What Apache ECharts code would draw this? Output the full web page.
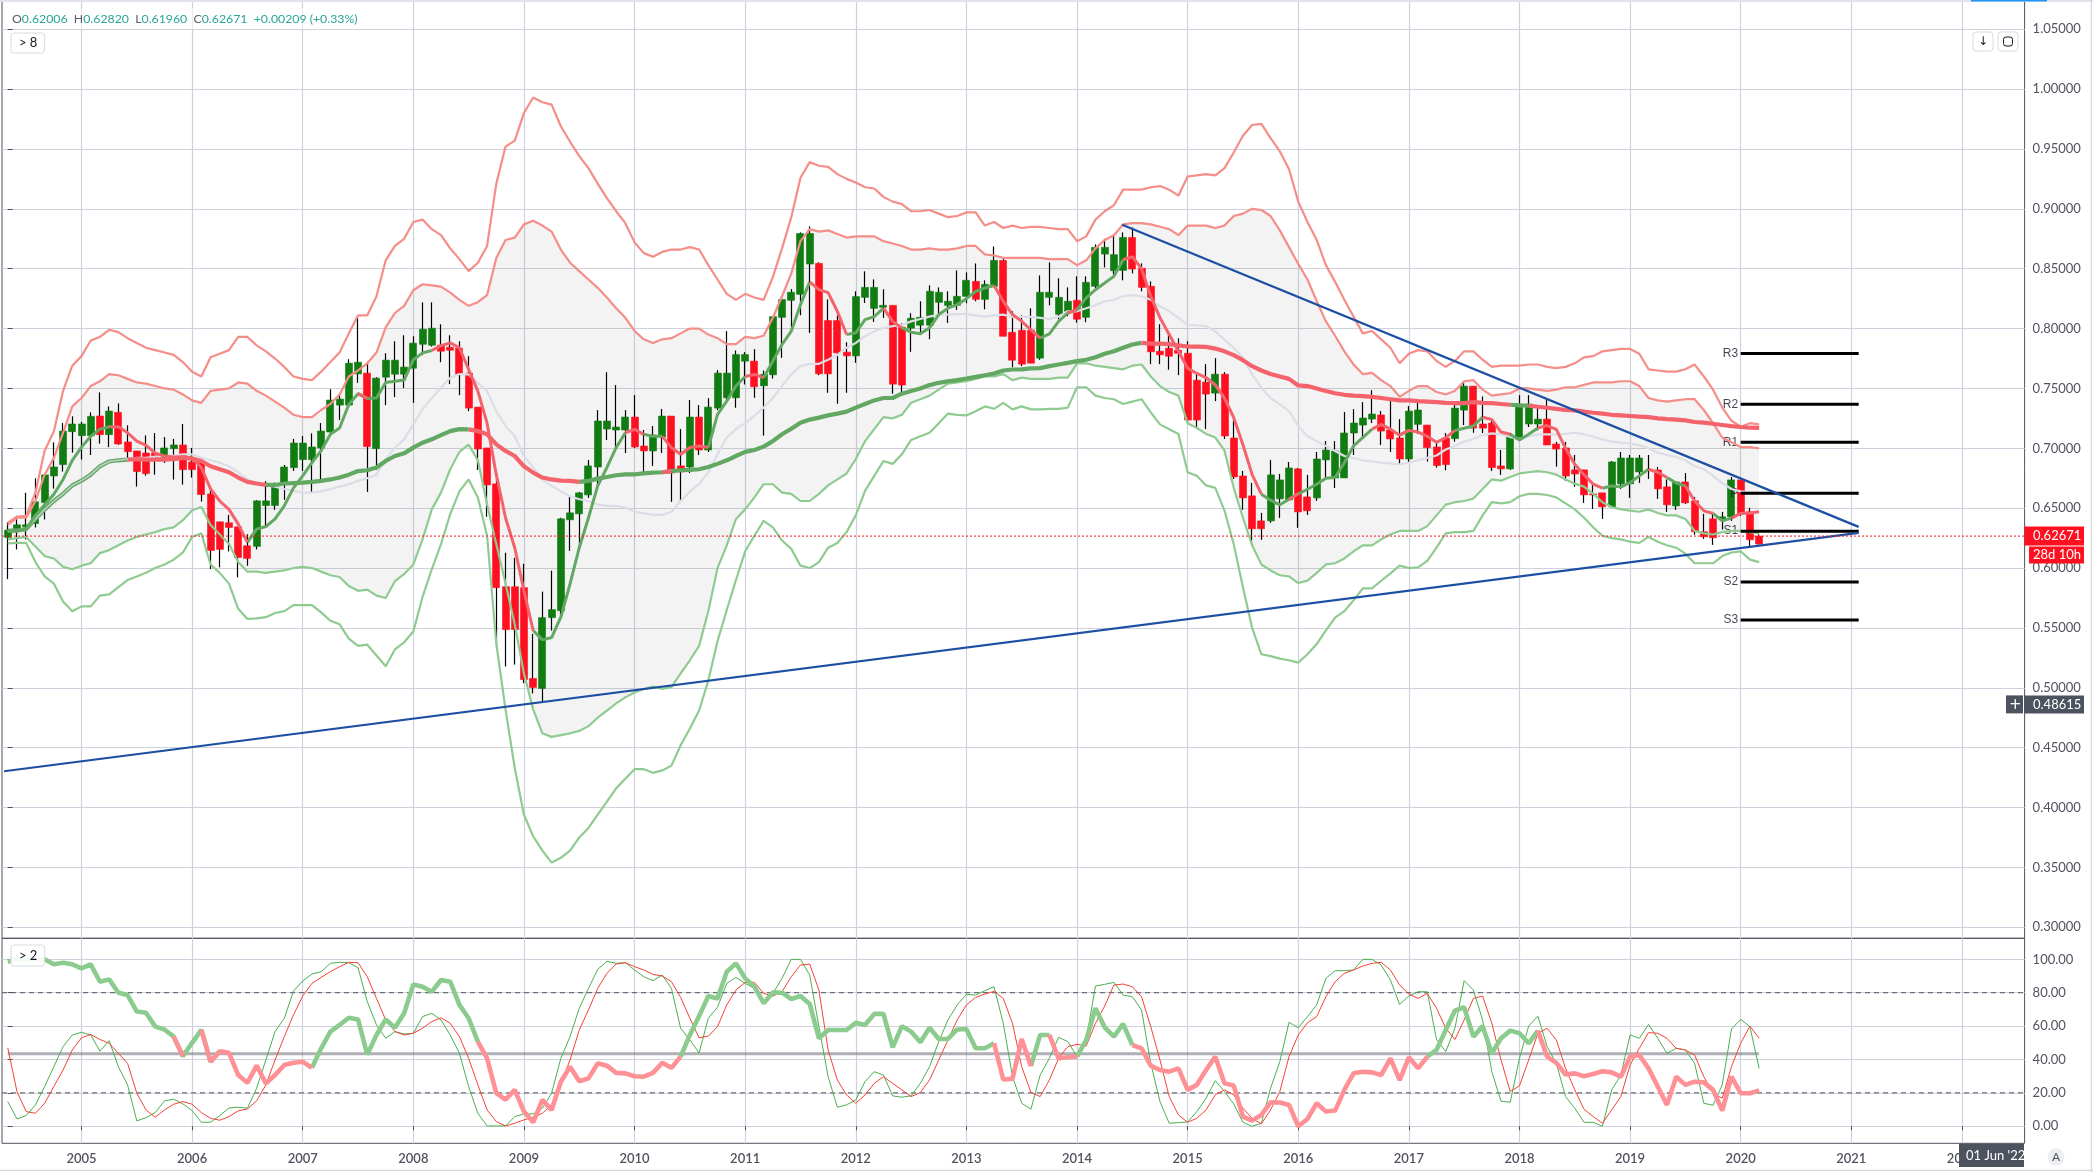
<!DOCTYPE html>
<html>
<head>
<meta charset="utf-8">
<style>html,body{margin:0;padding:0;background:#fff}#c{width:2093px;height:1172px}</style>
<script src="https://cdn.jsdelivr.net/npm/echarts@6/dist/echarts.min.js"></script>
</head>
<body>
<div id="c"></div>
<script>
// All prices below are in thousandths; months run from May 2004 (index 0) to Mar 2020 (index 190).
const yearLabels = ['2005','2006','2007','2008','2009','2010','2011','2012','2013','2014','2015','2016','2017','2018','2019','2020','2021','2022'];
const priceTicks = [0.30,0.35,0.40,0.45,0.50,0.55,0.60,0.65,0.70,0.75,0.80,0.85,0.90,0.95,1.00,1.05];
const oscTicks = [0,20,40,60,80,100];
const opens = [
625.6,631.1,634.4,637.2,654.7,676.9,686.4,713.9,710.6,710.6,
727,711.4,730,705.3,697.8,696.1,696.1,692.2,699.7,702.8,
688.6,688.6,661.9,638.6,637.8,634.4,618.6,618.1,652.2,652.2,
669.7,683.9,690.6,690.6,700.3,713.6,736.1,736.1,762.2,762.8,
699.7,759.4,761.9,761.9,766.9,786.9,786.1,786.1,784.4,783.6,
762.8,734.4,700.3,670.3,584.4,584.4,583.6,507.8,499.4,558.6,
564.4,640.3,645.3,661.1,684.4,716.1,715.3,715.3,726.1,701.9,
697.8,709.4,726.9,685.3,684.4,726.1,698.6,733.6,742.2,742.2,
772.8,772.8,752.2,761.4,809.4,823.6,828.6,853.9,854.4,806.7,
806.7,780.3,777.2,826.1,816.9,817.8,819.4,801.1,800.3,802.8,
802.8,821.9,819.4,819.4,826.9,839.4,824.4,835.3,856.9,796.9,
798.6,798.6,775.3,826.1,811.9,814.4,823.6,809.4,835.3,862.2,
848.3,848.6,876.1,850.3,835.3,781.1,783.6,781.9,779.4,756.9,
755.3,746.1,761.9,708.6,676.9,660.3,639.4,639.4,657.8,656.9,
682.8,659.4,658.6,690.3,675.3,675.3,712.8,719.4,724.4,727.8,
715.3,708.6,691.1,720,719.4,701.1,708.6,708.1,731.9,751.9,
720.3,721.1,685.3,682.8,707.8,720.3,720.3,724.4,703.6,700.3,
682,682,661.9,662.8,651.1,670.3,670.3,680.3,681.9,681.9,
667.8,651.9,671.9,656.1,630.3,641.1,641.1,642.8,673.6,647,
620.06];
const closes = [
631.7,636.1,636.1,655.3,677.8,684.4,714.4,720.3,720.3,726.7,
711.4,731.1,703.6,697.2,680.6,678.9,690.3,700.3,702.8,682.2,
682.2,661.4,614.7,615.6,633.9,608.9,608.1,656.1,656.1,670.3,
684.4,704.4,704.4,701.1,714.4,740.3,741.1,771.1,771.9,701.4,
758.6,773.6,773.6,767.8,787.8,799.4,800.3,781.1,781.9,761.9,
733.6,699.4,669.4,583.6,548.6,548.6,506.9,500.3,558.6,565.3,
641.1,646.1,662.8,685.3,722.8,722.8,717.8,726.1,701.1,697.8,
711.1,726.9,679.4,680.3,726.1,698.6,734.4,762.8,762.8,778.3,
778.3,751.4,761.7,810,824.2,830.3,879.4,879.4,762.2,762.2,
779.7,777.2,826.7,834.4,834.4,819.4,753.6,752.8,808.6,809.4,
831.1,830.3,822.8,826.9,840.3,824.4,836.9,856.9,793.6,773.6,
770.3,771.1,830.3,830.3,826.1,822.8,807.8,838.6,867.8,867.8,
861.7,876.1,849.7,834.4,780.6,778.1,776.9,779.4,723.6,723.6,
745.3,761.9,710.3,676.1,658.6,632.8,632.8,677.8,673.6,683.6,
646.9,647.8,691.1,698.6,697.8,712.8,721.1,725.3,728.6,714.4,
707.8,691.1,731.1,732,700.6,685.6,686.4,733.6,751.9,716.9,
716.9,683.9,682.8,710.3,736.9,736.9,724.4,702.8,699.4,676.9,
678.6,661.1,661.1,651.1,688.6,691.9,691.9,691.9,681.6,666.1,
652.8,671.9,654.4,630.3,626.1,625.3,642.8,673.6,645.3,623.6,
626.71];
const highs = [
638,643.6,662.8,675,677.8,705,721.1,726.7,722,730,
746.7,735,737.5,719.2,697.8,710.8,712.8,709.4,707.8,720.3,
700.3,691.7,668.6,638.6,644.4,634.4,628.3,656.7,672.5,671.4,
686.1,707.8,710.3,712.5,721.1,749.4,745,774.4,811.1,772.2,
759.4,779.4,789.4,794.4,793.6,821.9,821.9,803.6,794.4,789.4,
776.9,734.4,700.3,679.4,612.8,608.6,603.6,545,580.3,597.8,
642,659.4,663.6,690.3,731.9,763.6,752.8,731.9,744.4,715.3,
718.6,732.8,726.9,716.1,740.3,736.1,741.9,765.3,797.8,781.7,
780.3,782.8,765,810,826.9,833,880.3,885.3,855.3,824.4,
811.1,788.6,831.1,847.8,841.1,832.8,819.4,804.2,812.8,822.8,
836.1,834.4,831.1,848.6,846.9,854.4,840.3,868.6,858.9,814.4,
811.1,816.9,844.4,855.3,842,834.4,843.6,843.6,870.3,875,
878.3,880.3,884.4,854.4,839.4,803.6,797.8,791.9,789.4,761.9,
770.3,775.3,763.6,723.6,681.1,671.1,646.1,690.3,678.6,688.6,
683.6,677.8,697,706.1,706.1,730.3,732.8,738.6,748.6,731.1,
741.1,724.4,735.3,737.8,719.4,706.1,712.8,739.4,756.1,751.9,
743.3,722.8,698.6,712.8,744.4,744.4,736.1,740.3,705.3,705.3,
694.4,682,670,662.8,689.4,696.9,694.4,694.4,694.4,684.4,
674,671.9,679.4,659.4,645.3,646.9,646.9,676.1,673.6,650.3,
628.2];
const lows = [
590.8,615.6,623.9,633.9,640.6,666.4,680.6,696.4,690.6,694.4,
703.9,701,703,692.2,668,677.2,678,687.8,673.9,669.7,
675.6,655.6,599.2,600.6,613.9,592.2,601.9,615.6,633.9,648.6,
656.9,681.1,681.1,663.1,671.9,711.7,723.6,735,754.7,663.6,
682.2,736.1,742.8,750.3,738,777.8,785,771.9,753.6,744.4,
731.1,681.9,642.8,534.4,517.8,519.4,503.9,495.3,488.6,547.8,
561.1,614.4,618.6,658.6,668.6,706.9,698.6,696.1,700.3,680.3,
685.3,696.1,655.3,656.1,679.4,694.4,696.9,731.9,738.9,733.9,
753.3,742.2,710.6,758.3,775.6,797.2,811.1,796.4,761.1,746.4,
737.2,746.4,771.4,821.4,805.6,808.9,745.6,745.6,780.6,796.1,
791.1,810.6,804.7,815.6,821.1,822.8,816.1,835.3,793.6,767.8,
768.6,771.1,773.9,819.4,807.8,810.3,805,805.3,833.6,851.1,
845,840.3,846.1,831.1,770.3,770.3,765.6,761.1,721.1,717.2,
716.1,739.4,707.8,674.4,648.6,619.4,623.6,637.8,641.9,656.1,
633.6,644.4,656.1,675.6,666.9,675.3,694.4,708.9,721.1,702.8,
696.9,686.1,687.8,712.2,688.9,683.9,681.7,705.6,719.4,713,
712.8,681.1,677.8,682,707,717.8,715,702.8,684.7,672.8,
667.8,654.4,649.4,641.1,651.1,666.1,658.6,671.1,674.4,657.8,
646.9,648.6,653.6,627.8,624.4,619.4,632.2,639.4,643.6,617.8,
619.6];
const upperOuter = [
638,643,643.6,663,698,714,748,769,777,790,
793,799,797,792,788,784,782,780,778,772,
764,760,776,779,782,793,793,786,781,775,
768,760,758,757,764,772,780,796,811,811,
827,857,869,875,889,891,883,878,867,858,
848,855,869,921,952,957,980,993,989,987,
969,956,944,934,921,909,898,888,872,863,
860,864,866,866,868,866,853,841,829,824,
829,826,824,843,867,893,926,939,936,935,
929,925,922,918,917,910,906,904,898,898,
899,896,893,894,897,897,886,889,884,886,
884,885,885,884,883,883,873,877,891,898,
903,916,916,916,918,919,916,911,927,928,
929,928,934,947,961,970,971,959,948,933,
906,889,874,853,839,824,810,796,798,791,
784,771,779,782,781,773,768,773,781,781,
774,768,769,769,769,770,770,768,767,768,
771,776,777,781,782,783,783,779,766,765,
764,764,766,770,760,749,734,723,718,721,
720];
const upperInner = [
636,642,642,656,678,692,713,735,742,752,
756,762,761,758,755,754,752,750,749,745,
740,738,748,749,750,755,754,748,744,739,
734,728,726,726,732,737,745,760,765,771,
780,801,813,819,832,837,836,835,830,824,
819,822,828,859,874,876,887,890,886,881,
866,855,848,841,834,826,817,809,798,791,
788,791,792,796,800,800,795,792,787,787,
793,792,794,809,827,846,873,883,881,882,
879,876,877,877,877,873,871,869,866,866,
867,866,866,867,869,869,862,861,859,859,
859,859,859,858,858,858,853,857,867,874,
878,887,888,888,887,885,883,878,886,886,
886,884,886,894,896,900,899,894,882,868,
854,841,823,806,794,781,770,762,763,757,
752,743,748,752,752,747,745,748,756,757,
749,744,745,746,750,750,749,748,749,751,
751,753,755,755,755,756,756,752,742,740,
739,740,741,741,732,721,709,705,701,701,
700];
const lowerInner = [
624,625,626,618,610,608,601,599,602,604,
612.5,615,619,623,626,628,630,632.5,634,640,
648,651,636,628,620,605,597,597,596,597,
598,600,601,600,597,594,592.5,585,581,582,
577,575,589,595,603,624,649,663,682.5,697,
703,690,653,620,587,553,512,482,462,459,
460.5,462,464,468,475,481,487,492,496,499,
501,499,500.5,512,523,535,564,600,619,641,
649,659,670,670,663,662,656,656,662,669,
674,679,691,706,716,726,725,728,738,741,
744,749,754,755,756,758,760,760,762,757,
759,758,758,758,759,759,771,771,769,768,
767,766,769,770,760,752,747,744,721,717,
712,709,698,667,642,619,603,598,594,593,
587.5,589.5,596,603,604,608,614,619,619,624,
628,631,631,631,635,644,653,655,656,658,
666,674,673,676,679,680,681,680,678,674,
670.5,668,662,655,651,649,648,647,649,646,
644,644,641,631,629,628,630,631,631,630,
629];
const lowerOuter = [
620.6,621,621,605,593,587,572,564,568,568,
577,578,584,590,593,596,600,603,607,613,
626,629,603,596,587,566,557.5,558,559,562.5,
564,569,569,569,563,556,553,541,535,536,
527,518,532,538,547,576,599,620,645,664,
674,659,627,537,482,433,394,376,364,354,
358,364,375,383,394,405,416,424,432,432,
429,431,435,452,466,481,506,539,565,590,
614,627,639.4,634,623,616,602,600,605,617,
621,630,644,664.4,677,689.4,687,695,707,710,
713,721,729,728,727.5,731,735,733,738,732.5,
735,732.5,732.5,733,733,734,751,751,744,742,
741,737,739,741,730,720,716,712,680,677,
669,667,648,620,584,550,528,526.5,524.4,523,
521,528,536.5,548,558.6,564,573,583,583,589.4,
595.6,602,600,600.6,606,617,629,630,630,631,
644,655,654,655,660,662,662,661,659,654,
649,642,634,627,625,624,622,621,626,622,
619,617,612,604,604,604,610,613,614,607,
605];
const fastMA = [
631,631,632.5,644,652.8,661.7,674,690,701,710,
716,718,718,713,706,702.5,696,693.6,692.8,693,
692,684,666,656,649,636.7,621.4,632.5,634.7,641,
652,667,677,688,698,711.7,717,736.7,745.6,741.7,
742,755,756,757,774,779.7,781.7,785.8,788,784,
765.8,747.8,721,678,642,617,581,547.8,540,542,
559,586.7,617,642,668.6,684,700.6,713,715.8,711.7,
710,710,700.6,695,700.6,702,700.6,728.3,739.4,752,
760,761.7,759,772.8,786.7,797.8,820,839,832.5,830,
814.4,795,796.4,807.5,810,817,806,800.6,797,795.6,
800.6,811.7,817,820,825,831,833.9,836,822.8,811.7,
806,799,792,795.6,806,813,815.8,825.6,832.5,838,
843.6,857.5,860,850,827,809,795,781,767,762.5,
759,753,742,725.6,703,678,661.7,656.7,652.8,657.5,
662,665.8,670,675,675.6,688,702,709,716,720,
716,711,715,713.6,710,705,708.9,715,716.7,718.6,
726,724,713.6,711.7,707,711.7,717,719,715.8,700,
686.7,678,670,666.7,668.6,667.8,671.4,677,682.5,680,
675.6,671,668.6,656,647.8,645.6,639.4,641.7,645.6,646,
647];
const slowMA = [
631,631.4,632.5,641,649,656,662,669,673,678,
685,689,690,690.6,691,690.6,690.6,690.6,691,692,
691.4,689.4,685,682.5,680,675.6,672,670.6,669.4,669.4,
670.6,671,671.4,672,672.8,674,675.6,678,681,681.7,
684,689.4,693.6,695.8,700.6,704.7,707.5,711,714.4,716,
715.8,714.4,711.7,703.3,697.8,693.6,685,679.7,675.6,674,
673,672.8,672,672.8,674.7,676,677.5,678.3,678.3,679,
679.7,680,681,681.7,682,682.5,684.4,687,690,693.6,
697,698.6,701.4,706,711.7,716.4,721.4,724,725.6,727.5,
729,730.6,734,737,740,742,742,745.6,747.8,750,
752.8,754.7,756,757,758.3,759.7,761,762.5,765,765.8,
766,766.7,767,768.6,770,771.4,772.8,774,776,779,
781,784,786.7,788,787.5,787.5,787,786,785,785,
784.7,783.3,781,777.8,773.6,768.6,765,762,760,758,
752.5,752,750,747.8,746,744.7,744,743.6,743,742,
741,740,740,739.4,739,738.6,738,737.8,737.8,738.6,
738,737.8,737,736.4,735.8,735.6,734.7,733.9,733,732,
731.7,730.6,729.7,729,728,727.5,727,726.4,726,725,
724.4,724,723.3,722,721.4,720.5,719.5,718.5,717.8,717.2,
717];
const greyMA = [
631,631.4,632.5,641,649,656,662,669,673,678,
685,689,690,691,692,692,693,693.5,694,695,
695,692,690,688,685,680,674,671,669.4,668,
666,664.4,663,663,664,666,668,670,672.8,675,
678,691,700.6,707.5,720,732.5,742,750.6,759,762,
761.7,754.7,747.8,731,718.6,710,693.6,684,674,668.6,
664,660,657.5,656,653,652,652,650.6,647,645.6,
644.4,644.4,647,656,664,670,680,695,709,716,
721,727,734,742,752,762,768.6,770.6,770.6,774,
778,784,788,793.6,797.8,800.6,802,803,806,808,
810,811.7,811.7,812,812,811,810,811,811.7,809.7,
809.7,809.7,809,808,810,814.4,814.4,817,819.4,822.8,
824,827,828,827,824,818.6,814.4,809,803,802.8,
802,797.8,790.8,784,775.6,761.7,750.6,742,736.7,731,
719,710,706,702,697.8,693.6,691.7,690,689,688,
687.5,686.7,688,690,692,694,699,702,705.6,708,
711,712.5,711.7,709.4,708,710,711.7,711.7,711.7,712,
713,711.7,709.7,707.5,705.6,704.7,704,702.5,700,696.4,
694.4,692.8,690,685,682.5,677,671,666,664,663,
662.5];
const rsi = [
98.6,100,99.6,100,100,97,98,97,94.6,97,
86.6,88,80,78.6,68.7,68,59.7,58,53.7,42,
50,57.7,38.7,45,44,30.7,26,36.3,25.7,30.7,
36.7,38,38.7,35,46.7,56.7,60.7,65,64,43,
54.7,64,59,67.7,85,83.6,80.6,87.6,86.6,72.7,
64.7,50.7,40.7,19.8,16,21.8,8.8,2.4,15.8,9.8,
26.7,35.7,27,28.7,37.7,36.3,32,31.7,30,29.7,
32,38,35,41.7,54.7,66,78,76.6,92.6,97.6,
88.6,83.6,73.7,80.2,80,76.2,78,73.3,52.7,57.7,
57.7,57.7,62,60.7,67.3,67.3,47.3,60,56.7,50.3,
59,52.3,52.3,58,58.3,46.7,46.7,49.7,28,28.5,
52.3,36,54.7,54.7,40.7,41.3,41.7,51.7,70.7,59.3,
53.7,61.3,48.7,46.7,36.3,33.7,32.7,34.7,21.8,24.8,
33.7,41.7,25.7,24.4,5.8,3.4,6.8,14.4,14.2,12.8,
0,4.4,13.8,8.8,9.4,21.8,31.7,32.7,32.3,30.7,
40.7,27.7,41.3,34.7,41.7,45.7,57.7,69.3,71.3,53.7,
60,43.7,52.7,57.3,55.7,49.7,57.3,41.7,38,31,
31.7,30,31.3,33,32.3,29.7,41.7,42.7,34.7,23.8,
12.8,29.7,24.8,26.7,26.3,21.8,9.4,29.7,19.8,19.8,
21.4];
const stochK = [
14.8,4.4,6.4,12.8,23.8,35.7,47.7,54.7,56.3,54.7,
45,51.3,35.7,24.8,3.2,5.2,8.2,15.2,16.2,13.4,
9.4,2.4,2.4,6.4,11,11.4,10.8,22.8,39.7,56.7,
64.7,81,87,91.2,92.6,97.6,98.2,98,95,74.7,
60.7,52.7,56.7,55.3,55.7,65.7,67.7,63.7,54.7,43.7,
23.8,7.8,0.2,0.2,0.2,5.8,7.4,7.4,10.8,19.8,
40.7,53.7,70.7,82.6,94,98.8,97.6,98,93.6,89.6,
87.2,90.6,82.6,58.7,51.7,44,64.7,71.3,85.6,89.2,
85.6,82.6,73.7,79.6,88.6,100,100,90.6,59.7,29.7,
11.4,12.8,15.8,26.7,32.7,30.7,18.2,17.4,18.2,25.7,
35.7,50.7,63.7,72.7,79,78.6,81.2,83.6,61.7,29.7,
13.8,10.2,30.7,40.7,53.3,50.7,41.7,51.7,84,85,
86.2,78.6,77.6,69.7,37.7,14.8,1.8,2.2,2.6,8.8,
16.8,27.3,20.8,13.4,2.4,0,1.8,22.8,38.7,62.3,
59,65.7,72.7,88.6,93.2,93.2,93.6,100,100,96.6,
87.6,73,78,80.6,80.6,52,44.7,58.7,87.2,81.6,
63.7,32.7,15,14.4,40.7,60,66,47.7,37.7,17.8,
10.8,2.4,2.4,0,21.8,30.7,54.7,52.7,61,52.7,
43.7,46.7,45.7,37.7,13.8,12.6,24.8,58.3,64,59.7,
34.7];
const stochD = [
47,20.8,8.8,7.8,13.8,23.8,33.7,45.7,53,55,
52,49.7,43.7,37.7,19.8,9.8,5.4,9.8,13.2,14.8,
13.2,8.2,4.8,3.6,5.8,9.2,10.4,15.2,24.8,39.7,
53.7,66.7,78,85.6,89.2,92.6,95.6,98.2,98,89.6,
76.6,63.7,56.7,54.7,55.7,58.7,62.7,65,61.7,53.7,
40.7,24.8,9.8,2.8,0.2,1.8,3.8,5.4,7.8,12.8,
25.7,39.7,57.7,69.7,82.6,91.6,97.2,98,95.6,93.6,
91,90,86.6,77.2,64.7,53,54,59.7,72.7,81.6,
86.2,86.2,79.6,78,80.6,89.6,96.6,97.2,81.6,45.7,
27.7,18.8,13.8,18.8,25.7,29.7,25.7,21.8,17.8,20.2,
27.7,39.7,51.7,63.7,72.7,77.2,79.2,80.8,76.6,61.7,
35.7,20.2,17.8,27.7,40.7,47.7,49.1,48.1,61.7,72,
84.6,85.2,83.6,77.6,59.7,39.7,17.8,6.8,2.4,4.8,
9.8,18.8,21.8,18.8,10.8,4.8,1.4,9.8,20.8,41.7,
54.7,62,65.7,77.6,86.6,91.6,93.6,96,97.6,98.2,
93.6,84.6,79.2,76.6,79.6,70.7,58.7,52,63.7,76.6,
78,61.7,39.7,20.8,24.2,39.7,55.7,58.7,51.7,34.7,
21.8,10.2,5.8,1.8,9.8,17.8,36.7,46.7,56.1,55.7,
52.7,46.7,45.7,42.7,29.7,19.8,16.8,35.7,49.7,60,
52.7];
// Month index ranges over which each two-colour line is drawn red.
const fastRed = [[11,26],[38,39],[46,57],[67,69],[71,73],[74,76],[80,82],[87,91],[95,97],[107,112],[115,116],[121,130],[131,136],[139,140],[148,151],[152,157],[160,163],[166,173],[178,180],[182,185],[187,190]];
const slowRed = [[13,28],[50,62],[71,72],[123,157],[158,163],[165,190]];
const rsiRed = [[18,19],[21,22],[23,33],[51,73],[107,111],[113,116],[122,154],[166,190]];
const pivotNames = ['R3','R2','R1','P','S1','S2','S3'];
const pivotValues = [0.7792,0.7367,0.705,0.6625,0.6308,0.5883,0.5567];
const pivotFrom = 188, pivotTo = 200.8;
const trendUp = [[-0.4,0.4303],[200.8,0.6294]];
const trendDown = [[120.9,0.8867],[200.8,0.6344]];
const lastPrice = 0.62671;
const oscLevels = [20,80];
const oscMid = 43.5;
const crossPrice = 0.48615;

const X_MIN = -0.625, X_MAX = 218.8;
const GRID_C = '#cfd1dc', AXIS_C = '#50535e', GREEN = '#117c11', RED = '#ff1020';
const FONT = 'Lato';
const n = opens.length;
const xTicks = yearLabels.map((_, i) => 8 + 12 * i);
const px = a => a.map((v, i) => [i, v / 1000]);
const inRed = (i, ranges) => ranges.some(r => i >= r[0] && i <= r[1]);
const inner = (i, ranges) => ranges.some(r => i > r[0] && i < r[1]);
const redPart = (pts, ranges) => pts.map((p, i) => inRed(i, ranges) ? p : [i, '-']);
const greenPart = (pts, ranges) => pts.map((p, i) => inner(i, ranges) ? [i, '-'] : p);

const line = (name, data, color, width, extra) => Object.assign({
  name, type: 'line', data, showSymbol: false, silent: true, animation: false,
  lineStyle: { color, width }, itemStyle: { color }, connectNulls: false,
  xAxisIndex: 0, yAxisIndex: 0
}, extra || {});
const low = { xAxisIndex: 1, yAxisIndex: 1 };

const wicks = opens.map((o, i) => [i, o / 1000, closes[i] / 1000, lows[i] / 1000, highs[i] / 1000]);
const bodies = opens.map((o, i) => {
  const a = o / 1000, b = closes[i] / 1000;
  const v = [i, a, b, Math.min(a, b), Math.max(a, b)];
  if (i === n - 1) return { value: v, itemStyle: { color: RED, color0: RED, borderColor: RED, borderColor0: RED } };
  return v;
});
const osc = a => a.map((v, i) => [i, v]);

const series = [
  {
    name: 'band', type: 'custom', silent: true, animation: false, clip: true,
    data: [[0]], encode: { x: 0 },
    renderItem: (params, api) => {
      const top = upperInner.map((v, i) => api.coord([i, v / 1000]));
      const bottom = lowerInner.map((v, i) => api.coord([i, v / 1000])).reverse();
      return { type: 'polygon', shape: { points: top.concat(bottom) },
        style: { fill: 'rgba(100,100,105,0.08)' }, silent: true };
    }
  },
  line('grey', px(greyMA), '#dcdde6', 2.2),
  line('upperOuter', px(upperOuter), '#f58d88', 2.2),
  line('upperInner', px(upperInner), '#f58d88', 2.2),
  line('lowerInner', px(lowerInner), '#8fcb91', 2.2),
  line('lowerOuter', px(lowerOuter), '#8fcb91', 2.2),
  line('slowG', greenPart(px(slowMA), slowRed), '#62a863', 4.2),
  line('slowR', redPart(px(slowMA), slowRed), '#f4636c', 4.2),
  line('greyEarly', px(greyMA).slice(0, 14), 'rgba(220,221,230,0.75)', 1.5),
  line('fastG', greenPart(px(fastMA), fastRed), '#62a863', 3),
  line('fastR', redPart(px(fastMA), fastRed), '#f4636c', 3)
];
pivotValues.forEach((v, k) => series.push(line('pivot' + pivotNames[k], [[pivotFrom, v], [pivotTo, v]], '#000', 3)));
series.push({
  name: 'pivotLabels', type: 'scatter', silent: true, animation: false, symbolSize: 1,
  itemStyle: { color: 'transparent' },
  data: pivotValues.map((v, k) => [pivotFrom, v, pivotNames[k]]),
  label: { show: true, position: 'left', distance: 2, color: '#131722', fontFamily: 'Liberation Sans', fontSize: 12,
    formatter: p => p.data[2] }
});
series.push({
  name: 'wicks', type: 'candlestick', silent: true, animation: false, barWidth: 1,
  itemStyle: { color: '#000', color0: '#000', borderColor: '#000', borderColor0: '#000', borderWidth: 1.2 },
  data: wicks
});
series.push({
  name: 'bodies', type: 'candlestick', silent: true, animation: false, barWidth: 7.5,
  itemStyle: { color: GREEN, color0: RED, borderColor: GREEN, borderColor0: RED, borderWidth: 0.6 },
  data: bodies
});
series.push(line('trendUp', trendUp, '#1c4fa3', 2.2));
series.push(line('trendDown', trendDown, '#1c4fa3', 2.2));
series.push(line('price', [[X_MIN, lastPrice], [X_MAX, lastPrice]], RED, 1, { lineStyle: { color: RED, width: 1, type: [2, 2] } }));

oscLevels.forEach(v => series.push(line('lvl' + v, [[X_MIN, v], [X_MAX, v]], AXIS_C, 1,
  Object.assign({ lineStyle: { color: AXIS_C, width: 1, type: [5, 4] } }, low))));
series.push(line('oscMid', [[0, oscMid], [190, oscMid]], 'rgba(120,123,134,0.6)', 3, low));
series.push(line('stochK', osc(stochK), '#4caf50', 1, low));
series.push(line('stochD', osc(stochD), '#f44336', 1, low));
series.push(line('rsiG', greenPart(osc(rsi), rsiRed), '#8bcb8d', 4.6, low));
series.push(line('rsiR', redPart(osc(rsi), rsiRed), '#ff9095', 4.6, low));

const xCommon = {
  type: 'value', min: X_MIN, max: X_MAX,
  splitLine: { show: true, lineStyle: { color: GRID_C, width: 1.2 } }
};
const axisLbl = { color: AXIS_C, fontFamily: FONT, fontSize: 13 };
const option = {
  animation: false,
  backgroundColor: '#fff',
  grid: [
    { left: 2, top: -2, width: 2022.6, height: 940.3, show: true, borderColor: AXIS_C, borderWidth: 1, backgroundColor: 'transparent' },
    { left: 2, top: 938.3, width: 2022.6, height: 205, show: true, borderColor: AXIS_C, borderWidth: 1, backgroundColor: 'transparent' }
  ],
  xAxis: [
    Object.assign({}, xCommon, { gridIndex: 0, axisLine: { show: false }, axisLabel: { show: false },
      axisTick: { show: false, customValues: xTicks } }),
    Object.assign({}, xCommon, { gridIndex: 1, axisLine: { show: false },
      axisTick: { show: true, length: 4, customValues: xTicks, lineStyle: { color: AXIS_C } },
      axisLabel: { show: true, customValues: xTicks, margin: 9, ...axisLbl, fontWeight: 600,
        formatter: v => yearLabels[Math.round((v - 8) / 12)] } })
  ],
  yAxis: [
    { type: 'value', gridIndex: 0, position: 'right', min: 0.2908, max: 1.0744, scale: true,
      axisLine: { show: false },
      axisTick: { show: true, length: 5, customValues: priceTicks, lineStyle: { color: AXIS_C } },
      axisLabel: { show: true, customValues: priceTicks, margin: 8, ...axisLbl, formatter: v => v.toFixed(5) },
      splitLine: { show: true, lineStyle: { color: GRID_C, width: 1.2 } } },
    { type: 'value', gridIndex: 1, position: 'right', min: -10.2, max: 112.6,
      axisLine: { show: false },
      axisTick: { show: true, length: 5, customValues: oscTicks, lineStyle: { color: AXIS_C } },
      axisLabel: { show: true, customValues: oscTicks, margin: 8, ...axisLbl, formatter: v => v.toFixed(2) },
      splitLine: { show: true, lineStyle: { color: GRID_C, width: 1.2 } } }
  ],
  series
};
const chart = echarts.init(document.getElementById('c'), null, { renderer: 'canvas' });
chart.setOption(option);

const py = chart.convertToPixel({ yAxisIndex: 0 }, lastPrice);
const cy = chart.convertToPixel({ yAxisIndex: 0 }, crossPrice);
const T = (x, y, text, o) => ({ type: 'text', x, y, silent: true, z: 50,
  style: Object.assign({ text, fill: '#fff', fontFamily: FONT, fontSize: 13, textVerticalAlign: 'middle' }, o || {}) });
const R = (x, y, w, h, fill, o) => ({ type: 'rect', silent: true, z: 49, shape: { x, y, width: w, height: h, r: (o && o.r) || 0 },
  style: { fill, stroke: (o && o.stroke) || null, lineWidth: 1 } });
const legendTeal = '#2aa596', legendGrey = '#5d606b';
const button = (x, y, w, h) => R(x, y, w, h, 'rgba(255,255,255,0.9)', { stroke: '#d8dbe3', r: 3 });
chart.setOption({ graphic: [
  R(0, 0, 2093, 2, '#e2e3ea'),
  R(1971, 0, 76, 1.5, '#2196f3'),
  R(2090.8, 0, 1.2, 1172, '#d6d8e2'),
  R(0, 1169.8, 2093, 1.2, '#d6d8e2'),
  R(8, 8, 354, 21, 'rgba(255,255,255,0.55)'),
  { type: 'text', x: 12, y: 19, silent: true, z: 50, style: {
      text: '{g|O}{t|0.62006}  {g|H}{t|0.62820}  {g|L}{t|0.61960}  {g|C}{t|0.62671}  {t|+0.00209 (+0.33%)}',
      textVerticalAlign: 'middle', fontFamily: FONT, fontSize: 12.3,
      rich: { g: { fill: legendGrey, fontFamily: FONT, fontSize: 12.3 }, t: { fill: legendTeal, fontFamily: FONT, fontSize: 12.3 } } } },
  button(11, 33, 33.6, 20),
  T(19, 43, '> 8', { fill: '#131722', fontSize: 13 }),
  button(11, 945, 33.6, 21),
  T(19, 955.5, '> 2', { fill: '#131722', fontSize: 13 }),
  button(1973, 32, 20, 19),
  T(1978, 41.5, '\u2193', { fill: '#131722', fontFamily: 'DejaVu Sans', fontSize: 12 }),
  button(1998, 32, 20, 19),
  R(2003.5, 37, 9, 9, 'transparent', { stroke: '#131722', r: 2.5 }),
  R(2024.5, py - 9.5, 59.5, 19, RED),
  T(2033, py, lastPrice.toFixed(5)),
  R(2029, py + 10.5, 55, 17, RED),
  T(2033, py + 19, '28d 10h'),
  R(2006, cy - 9, 17, 18, '#4c525e'),
  T(2009, cy + 0.5, '+', { fontFamily: 'DejaVu Sans', fontSize: 15 }),
  R(2024, cy - 9, 60, 18, '#4c525e'),
  T(2033, cy, crossPrice.toFixed(5)),
  R(1959, 1143.5, 65, 23.5, '#4c525e'),
  T(1966, 1155.5, "01 Jun '22", { fontSize: 13 }),
  { type: 'circle', silent: true, z: 49, shape: { cx: 2056, cy: 1157, r: 8.5 }, style: { fill: '#eceef2' } },
  T(2052, 1157.5, 'A', { fill: '#50535e', fontSize: 12 })
] });
</script>
</body>
</html>
